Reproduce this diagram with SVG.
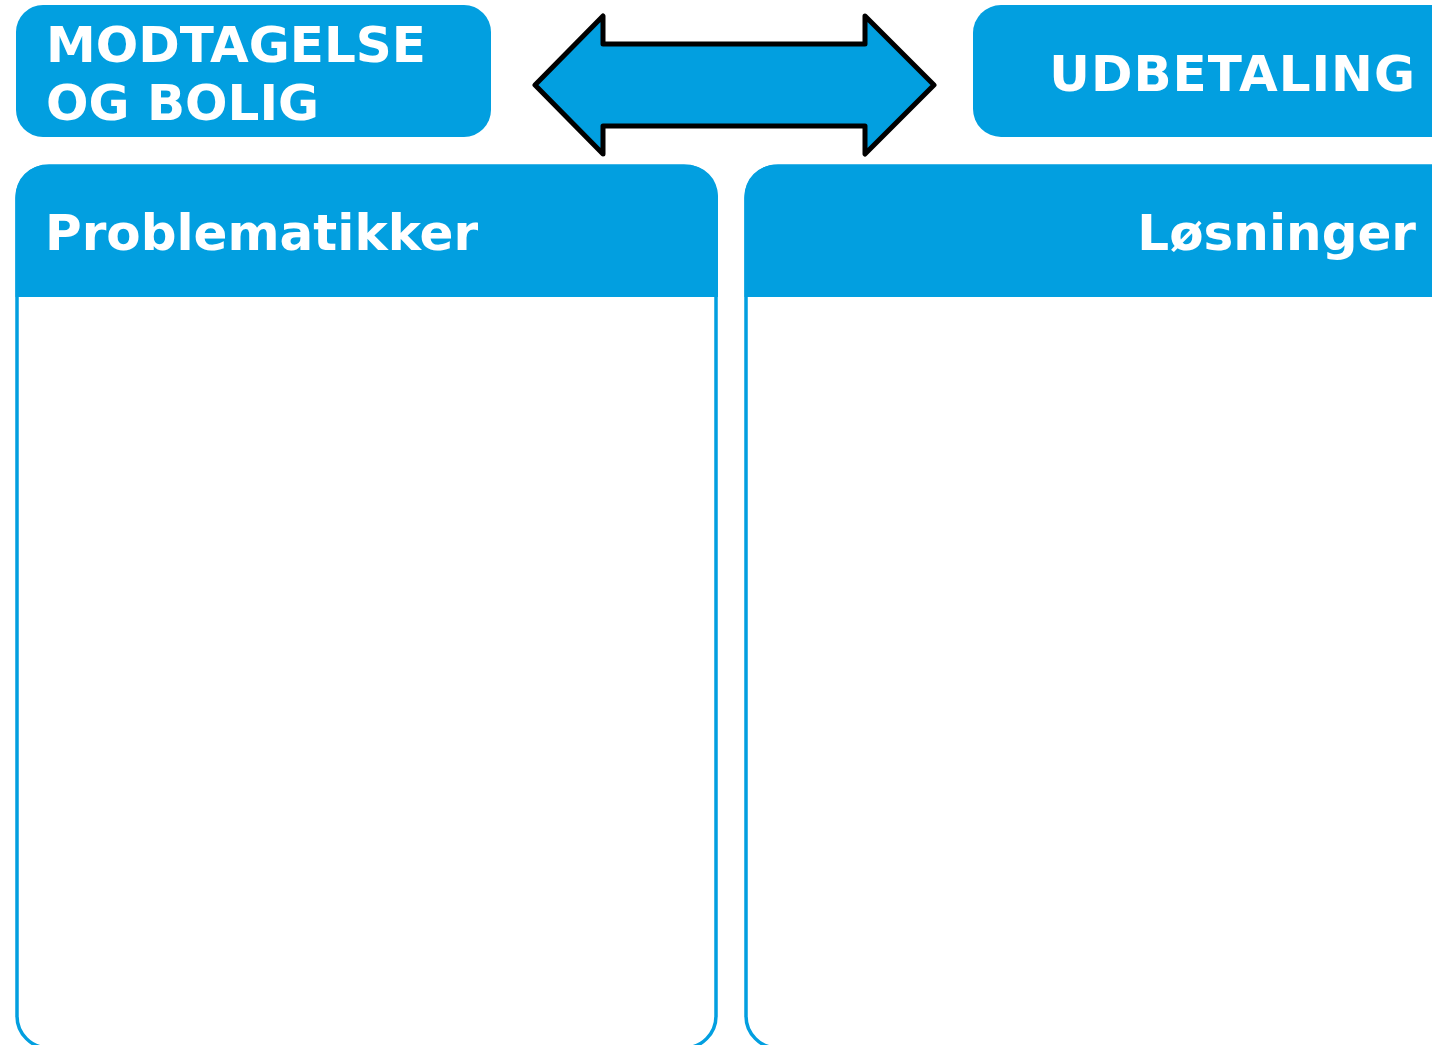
<svg xmlns="http://www.w3.org/2000/svg" width="1432" height="1045" viewBox="0 0 1432 1045">
<style>
.box{fill:#029FE0}
.t{font-family:"DejaVu Sans","Verdana",sans-serif;font-weight:bold;font-size:50px;fill:#ffffff}
.panel{fill:#ffffff;stroke:#029FE0;stroke-width:3.5}
.arrow{fill:#029FE0;stroke:#000000;stroke-width:5;stroke-linejoin:round}
</style>
<rect width="1432" height="1045" fill="#ffffff"/>
<g id="modtagelse">
<rect class="box" x="16" y="5" width="475" height="132" rx="27"/>
<text class="t" x="46" y="62">MODTAGELSE</text>
<text class="t" x="46" y="120">OG BOLIG</text>
</g>
<g id="udbetaling">
<rect class="box" x="973" y="5" width="500" height="132" rx="28"/>
<text class="t" x="1416" y="91" text-anchor="end" letter-spacing="1">UDBETALING</text>
</g>
<g id="connectors">
<polygon class="arrow" points="535,85 603,16 603,44 865,44 865,16 934,85 865,154 865,126 603,126 603,154"/>
</g>
<g id="problematikker">
<rect class="panel" x="17" y="166" width="699" height="882" rx="32"/>
<path class="box" d="M15.5,297 V196 A31,31 0 0 1 46.5,165 H687 A31,31 0 0 1 718,196 V297 Z"/>
<text class="t" x="45" y="250">Problematikker</text>
</g>
<g id="losninger">
<rect class="panel" x="746" y="166" width="720" height="882" rx="32"/>
<path class="box" d="M744.5,297 V196 A31,31 0 0 1 775.5,165 H1480 V297 Z"/>
<text class="t" x="1416" y="250" text-anchor="end">Løsninger</text>
</g>
</svg>
